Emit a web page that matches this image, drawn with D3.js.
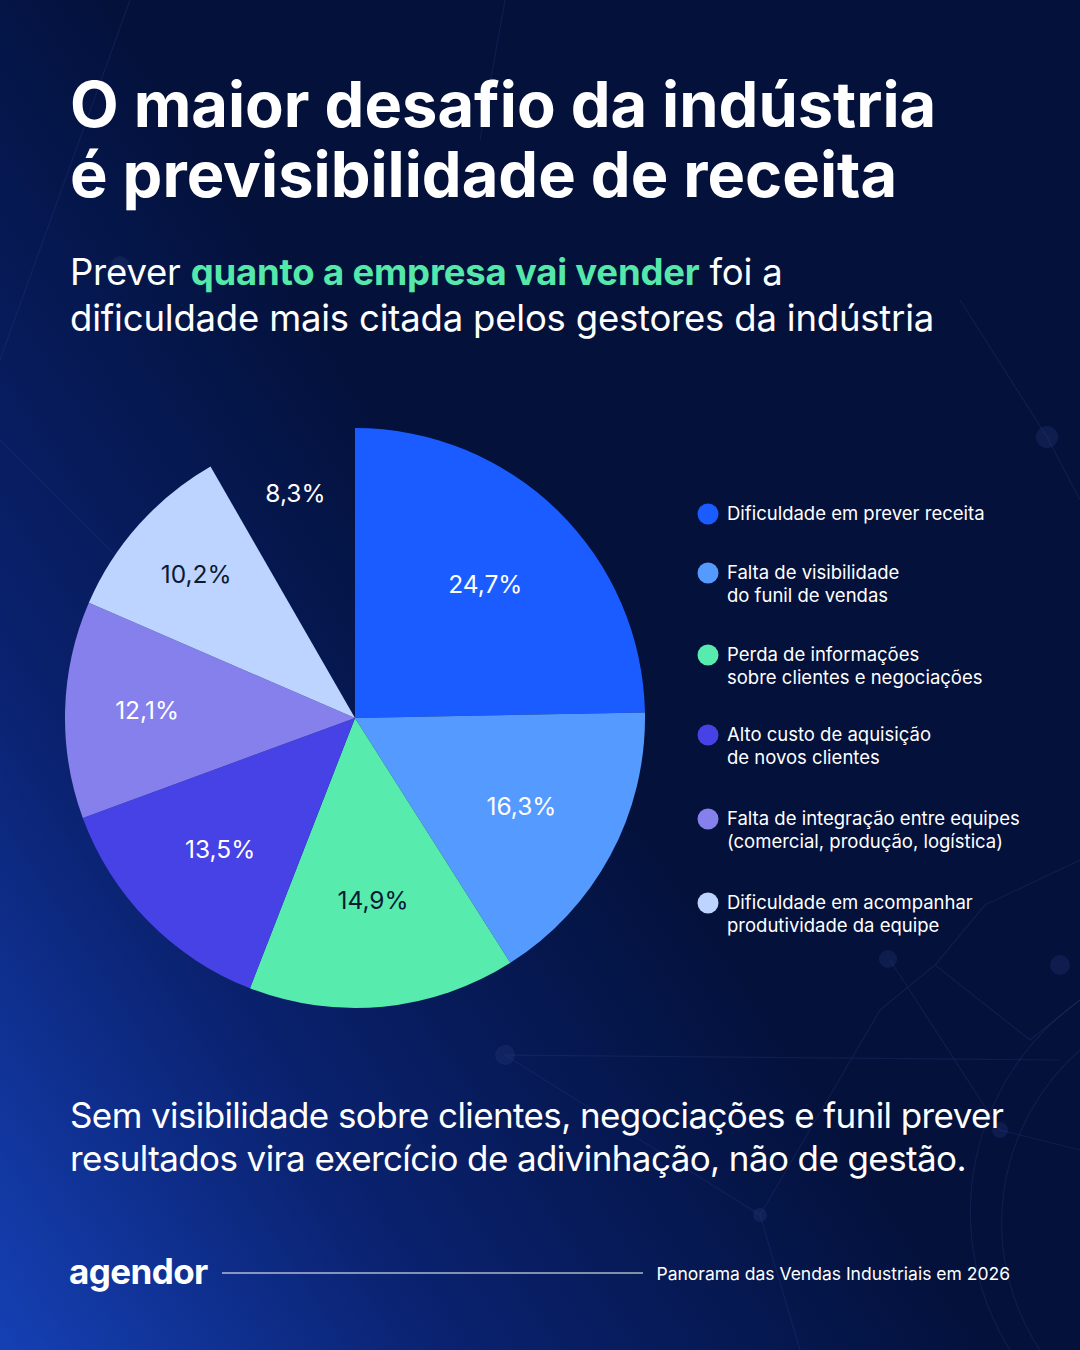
<!DOCTYPE html>
<html>
<head>
<meta charset="utf-8">
<script src="https://cdn.jsdelivr.net/npm/d3@7"></script>
<style>
  html, body { margin: 0; padding: 0; background: #03113b; }
  svg { display: block; font-family: Inter, "Noto Sans", sans-serif; }
</style>
</head>
<body>
<div id="chart-area"></div>
<script>
// data
var categories = [
  "Dificuldade em prever receita",
  "Falta de visibilidade\ndo funil de vendas",
  "Perda de informações\nsobre clientes e negociações",
  "Alto custo de aquisição\nde novos clientes",
  "Falta de integração entre equipes\n(comercial, produção, logística)",
  "Dificuldade em acompanhar\nprodutividade da equipe",
  "Outros"
];
var values = [24.7, 16.3, 14.9, 13.5, 12.1, 10.2, 8.3];
var sliceColors = ["#1a5cff", "#559bff", "#57ebae", "#4742e6", "#8580ec", "#bcd4ff", "none"];
var labelColors = ["#ffffff", "#ffffff", "#0b1a33", "#ffffff", "#ffffff", "#0b1a33", "#ffffff"];

var width = 1080;
var height = 1350;

var svg = d3.select("#chart-area").append("svg")
    .attr("width", width)
    .attr("height", height);

// background
var defs = svg.append("defs");
var bg = defs.append("linearGradient")
    .attr("id", "bg")
    .attr("x1", "0").attr("y1", "1")
    .attr("x2", "0.55").attr("y2", "0.55");
bg.append("stop").attr("offset", "0").attr("stop-color", "#1540b4");
bg.append("stop").attr("offset", "0.45").attr("stop-color", "#0a2270");
bg.append("stop").attr("offset", "1").attr("stop-color", "#03113b");

svg.append("rect")
    .attr("width", width)
    .attr("height", height)
    .attr("fill", "url(#bg)");

// faint network decoration
var deco = svg.append("g")
    .attr("fill", "none")
    .attr("stroke", "#2a3d7a")
    .attr("stroke-opacity", 0.3)
    .attr("stroke-width", 1.2);
deco.append("path").attr("d", "M1047,437 L1080,500 M1047,437 L960,300 M0,440 L180,620 M130,0 L0,360 M505,0 L480,140");
deco.append("path").attr("d", "M985,905 L1080,860 M985,905 L935,965 L1030,1040 L1080,1000 M935,965 L880,1010 L760,1215 M890,960 L1000,1130 L1080,1150 M505,1055 L760,1215 L800,1350 M505,1055 L1060,1060");
deco.append("path").attr("d", "M1080,1000 A260,260 0 0,0 1010,1350 M1080,1050 A230,230 0 0,0 1040,1350");
deco.selectAll("circle.node")
    .data([[1047, 437, 11], [888, 959, 9], [505, 1055, 10], [760, 1215, 7], [1060, 965, 10], [1000, 1130, 8], [120, 265, 9]])
    .enter().append("circle")
    .attr("cx", function(d) { return d[0]; })
    .attr("cy", function(d) { return d[1]; })
    .attr("r", function(d) { return d[2]; })
    .attr("fill", "#2a3d7a")
    .attr("fill-opacity", 0.3)
    .attr("stroke", "none");

// title
var title = svg.append("text")
    .attr("x", 70)
    .attr("y", 127)
    .attr("fill", "#ffffff")
    .attr("font-size", "63.2px")
    .attr("font-weight", 700);
title.append("tspan").attr("x", 70).text("O maior desafio da indústria");
title.append("tspan").attr("x", 70).attr("y", 197).text("é previsibilidade de receita");

// subtitle
var sub = svg.append("text")
    .attr("x", 70)
    .attr("y", 285)
    .attr("fill", "#ffffff")
    .attr("font-size", "36.5px")
    .attr("letter-spacing", "-0.2px")
    .attr("font-weight", 400);
var l1 = sub.append("tspan").attr("x", 70);
l1.append("tspan").text("Prever ");
l1.append("tspan").attr("fill", "#55e8aa").attr("font-weight", 700).text("quanto a empresa vai vender");
l1.append("tspan").text(" foi a");
sub.append("tspan").attr("x", 70).attr("y", 331).text("dificuldade mais citada pelos gestores da indústria");

// pie
var cx = 355, cy = 718, radius = 290;
var g = svg.append("g")
    .attr("transform", "translate(" + cx + "," + cy + ")");

var pieData = values.map(function(v, i) { return {value: v, i: i}; });
var pie = d3.pie()
    .sort(null)
    .value(function(d) { return d.value; });
var arc = d3.arc().innerRadius(0).outerRadius(radius);

// small slices get their labels pushed out a bit
var labelRadius = d3.scaleLinear()
    .domain([8.3, 10.2, 12.1, 13.5, 14.9, 16.3, 24.7])
    .range([231, 213, 208, 189, 185, 189, 186])
    .clamp(true);

var slices = g.selectAll("path.slice").data(pie(pieData));
slices.enter()
    .append("path")
    .attr("class", "slice")
    .attr("d", arc)
    .attr("fill", function(d) { return sliceColors[d.data.i]; });

g.selectAll("text.pct").data(pie(pieData))
    .enter()
    .append("text")
    .attr("class", "pct")
    .attr("transform", function(d) {
        var a = (d.startAngle + d.endAngle) / 2;
        var r = labelRadius(d.data.value);
        return "translate(" + (Math.sin(a) * r) + "," + (-Math.cos(a) * r) + ")";
    })
    .attr("text-anchor", "middle")
    .attr("dy", "0.3em")
    .attr("font-size", "24.5px")
    .attr("fill", function(d) { return labelColors[d.data.i]; })
    .text(function(d) { return d3.format(".1f")(d.data.value).replace(".", ",") + "%"; });

// legend
var legendRows = [514, 573, 655, 735, 819, 903];
var legend = svg.append("g").attr("class", "legend");
var items = legend.selectAll("g.item")
    .data(categories.slice(0, 6))
    .enter()
    .append("g")
    .attr("class", "item")
    .attr("transform", function(d, i) {
        return "translate(708," + legendRows[i] + ")";
    });
items.append("circle")
    .attr("r", 10.5)
    .attr("fill", function(d, i) { return sliceColors[i]; });
items.append("text")
    .attr("x", 19)
    .attr("fill", "#ffffff")
    .attr("font-size", "18.5px")
    .each(function(d) {
        var t = d3.select(this);
        d.split("\n").forEach(function(line, k) {
            t.append("tspan")
                .attr("x", 19)
                .attr("y", k * 23)
                .attr("dy", "0.35em")
                .text(line);
        });
    });

// closing sentence
var foot = svg.append("text")
    .attr("fill", "#ffffff")
    .attr("font-size", "35px")
    .attr("letter-spacing", "-0.6px");
foot.append("tspan").attr("x", 70).attr("y", 1128).text("Sem visibilidade sobre clientes, negociações e funil prever");
foot.append("tspan").attr("x", 70).attr("y", 1171).text("resultados vira exercício de adivinhação, não de gestão.");

// footer
svg.append("text")
    .attr("x", 69)
    .attr("y", 1284)
    .attr("fill", "#ffffff")
    .attr("font-size", "35px")
    .attr("font-weight", 700)
    .attr("letter-spacing", "-0.6px")
    .text("agendor");
svg.append("line")
    .attr("x1", 222).attr("x2", 643)
    .attr("y1", 1273).attr("y2", 1273)
    .attr("stroke", "#ffffff")
    .attr("stroke-width", 1.2);
svg.append("text")
    .attr("x", 1010)
    .attr("y", 1280)
    .attr("text-anchor", "end")
    .attr("fill", "#ffffff")
    .attr("font-size", "17.5px")
    .text("Panorama das Vendas Industriais em 2026");
</script>
</body>
</html>
